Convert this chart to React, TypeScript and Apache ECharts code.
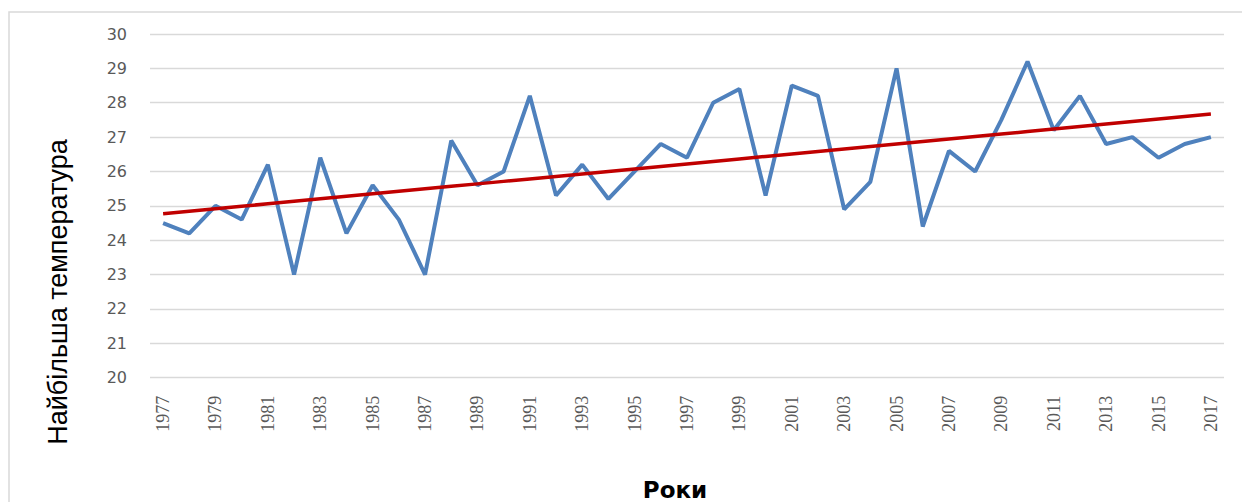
import React, { useEffect, useRef } from "react";
import * as echarts from "echarts";

const years: string[] = [
  "1977","1978","1979","1980","1981","1982","1983","1984","1985","1986",
  "1987","1988","1989","1990","1991","1992","1993","1994","1995","1996",
  "1997","1998","1999","2000","2001","2002","2003","2004","2005","2006",
  "2007","2008","2009","2010","2011","2012","2013","2014","2015","2016","2017",
];

const maxTemp: number[] = [
  24.5, 24.2, 25.0, 24.6, 26.2, 23.0, 26.4, 24.2, 25.6, 24.6,
  23.0, 26.9, 25.6, 26.0, 28.2, 25.3, 26.2, 25.2, 26.0, 26.8,
  26.4, 28.0, 28.4, 25.3, 28.5, 28.2, 24.9, 25.7, 29.0, 24.4,
  26.6, 26.0, 27.5, 29.2, 27.2, 28.2, 26.8, 27.0, 26.4, 26.8, 27.0,
];

const yTitle = "Найбільша температура";
const xTitle = "Роки";

// linear least-squares trend over the series (like Excel's linear trendline)
function linearTrend(vals: number[]): number[] {
  const n = vals.length;
  let sx = 0, sy = 0, sxy = 0, sxx = 0;
  vals.forEach((v, i) => { sx += i; sy += v; sxy += i * v; sxx += i * i; });
  const b = (n * sxy - sx * sy) / (n * sxx - sx * sx);
  const a = (sy - b * sx) / n;
  return vals.map((_, i) => +(a + b * i).toFixed(4));
}

export default function App() {
  const ref = useRef<HTMLDivElement>(null);
  useEffect(() => {
    document.body.style.margin = "0";
    if (!ref.current) return;
    const chart = echarts.init(ref.current, undefined, { renderer: "svg" });
    const trend = linearTrend(maxTemp);
    chart.setOption({
      animation: false,
      backgroundColor: "#ffffff",
      grid: { left: 150, right: 18, top: 34, bottom: 124.3, containLabel: false },
      xAxis: {
        type: "category",
        data: years,
        boundaryGap: true,
        axisLine: { show: false },
        axisTick: { show: false },
        axisLabel: {
          interval: 1,
          rotate: 90,
          margin: 18,
          color: "#595959",
          fontFamily: "Liberation Serif",
          fontSize: 18,
        },
        splitLine: { show: false },
      },
      yAxis: {
        type: "value",
        min: 20,
        max: 30,
        interval: 1,
        axisLine: { show: false },
        axisTick: { show: false },
        axisLabel: {
          margin: 23,
          color: "#595959",
          fontFamily: "DejaVu Sans",
          fontSize: 16,
        },
        splitLine: { show: true, lineStyle: { color: "#d9d9d9", width: 1.3 } },
      },
      graphic: [
        {
          type: "rect",
          shape: { x: 9, y: 12, width: 1400, height: 700 },
          style: { fill: "none", stroke: "#d9d9d9", lineWidth: 1.5 },
          silent: true,
          z: -10,
        },
        {
          type: "text",
          x: 58,
          y: 292,
          rotation: Math.PI / 2,
          style: {
            text: yTitle,
            fill: "#000000",
            font: "27px 'Liberation Sans'",
            align: "center",
            verticalAlign: "middle",
          },
        },
        {
          type: "text",
          x: 675,
          y: 490,
          style: {
            text: xTitle,
            fill: "#000000",
            font: "bold 23px 'DejaVu Sans'",
            align: "center",
            verticalAlign: "middle",
          },
        },
      ],
      series: [
        {
          name: "temp",
          type: "line",
          data: maxTemp,
          symbol: "none",
          lineStyle: { color: "#4f81bd", width: 4 },
          z: 2,
        },
        {
          name: "trend",
          type: "line",
          data: trend,
          symbol: "none",
          lineStyle: { color: "#c00000", width: 3.5 },
          z: 3,
        },
      ],
    });
    return () => chart.dispose();
  }, []);
  return <div ref={ref} style={{ width: 1242, height: 502 }} />;
}
